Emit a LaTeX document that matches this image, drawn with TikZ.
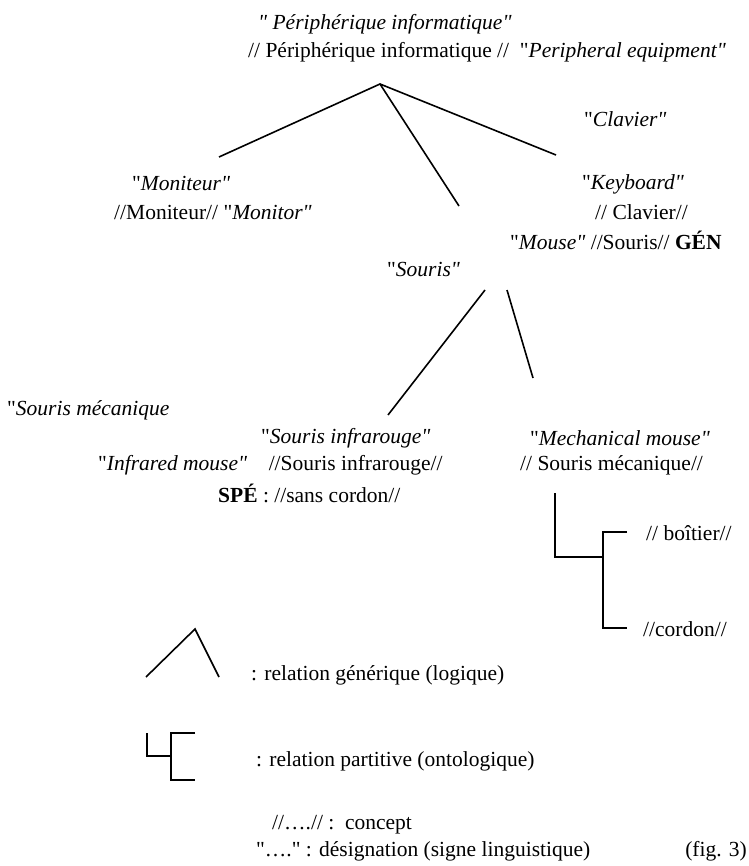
\documentclass[tikz,border=0pt]{standalone}
\usepackage{fontspec}
\setmainfont{Liberation Serif}[Ligatures=TeXOff]
\begin{document}
\begin{tikzpicture}[x=1pt,y=-1pt,
  lbl/.style={anchor=west,inner sep=0pt,font=\fontsize{21.5}{24}\selectfont},
  rel/.style={line width=1.6pt}]
\useasboundingbox (0,0) rectangle (748,866);
% top
\node[lbl] (t1) at (258,24) {\textit{" Périphérique informatique"}};
\node[lbl] (t2) at (248,52) {// Périphérique informatique //\ \ "\textit{Peripheral equipment"}};
\coordinate (apex) at (380,84);
\coordinate (lend) at (219,157);
\coordinate (mend) at (459,206);
\coordinate (rend) at (556,155);
\draw[rel] (lend) -- (apex) -- (rend);
\draw[rel] (apex) -- (mend);
\node[lbl] (clav) at (584,119) {"\textit{Clavier"}};
% moniteur
\node[lbl] (mon1) at (132,184) {"\textit{Moniteur"}};
\node[lbl] (mon2) at (114,212) {//Moniteur// "\textit{Monitor"}};
% keyboard
\node[lbl] (kb1) at (582,184) {"\textit{Keyboard"}};
\node[lbl] (kb2) at (595,212) {// Clavier//};
\node[lbl] (kb3) at (510,240) {"\textit{Mouse"} //Souris// \textbf{GÉN}};
\node[lbl] (sour) at (387,270) {"\textit{Souris"}};
\coordinate (s1) at (485,290);
\coordinate (s1e) at (388,415);
\coordinate (s2) at (507,290);
\coordinate (s2e) at (533,378);
\draw[rel] (s1) -- (s1e);
\draw[rel] (s2) -- (s2e);
\node[lbl] (smec) at (7,410) {"\textit{Souris mécanique}};
\node[lbl] (sinf) at (261,438) {"\textit{Souris infrarouge"}};
\node[lbl] (mech) at (530,438) {"\textit{Mechanical mouse"}};
\node[lbl] (inf2) at (98,465) {"\textit{Infrared mouse"}\quad //Souris infrarouge//};
\node[lbl] (mec2) at (520,465) {// Souris mécanique//};
\node[lbl] (spe) at (218,493) {\textbf{SPÉ} : //sans cordon//};
% partitive
\coordinate (p0) at (555,493);
\coordinate (p1) at (555,557);
\coordinate (p2) at (603,557);
\coordinate (pa) at (603,532);
\coordinate (pb) at (603,628);
\coordinate (pa2) at (627,532);
\coordinate (pb2) at (627,628);
\node[lbl] (boit) at (646,533) {// boîtier//};
\node[lbl] (cord) at (643,629) {//cordon//};
\draw[rel] (p0) -- (p1) -- (p2);
\draw[rel] (pa2) -- (pa) -- (pb) -- (pb2);
% legend
\coordinate (g1) at (146,677);
\coordinate (g2) at (195,629);
\coordinate (g3) at (219,677);
\draw[rel] (g1) -- (g2) -- (g3);
\node[lbl] (leg1) at (251,675) {: relation générique (logique)};
\coordinate (q0) at (147,733);
\coordinate (q1) at (147,756);
\coordinate (q2) at (171,756);
\draw[rel] (q0) -- (q1) -- (q2);
\draw[rel] (195,733) -- (171,733) -- (171,780) -- (195,780);
\node[lbl] (leg2) at (256,761) {: relation partitive (ontologique)};
\node[lbl] (leg3) at (272,825) {//….// :\ \ concept};
\node[lbl] (leg4) at (256,851) {"…." : désignation (signe linguistique)};
\node[lbl,anchor=east] (fig) at (747,851) {(fig. 3)};
\end{tikzpicture}
\end{document}
